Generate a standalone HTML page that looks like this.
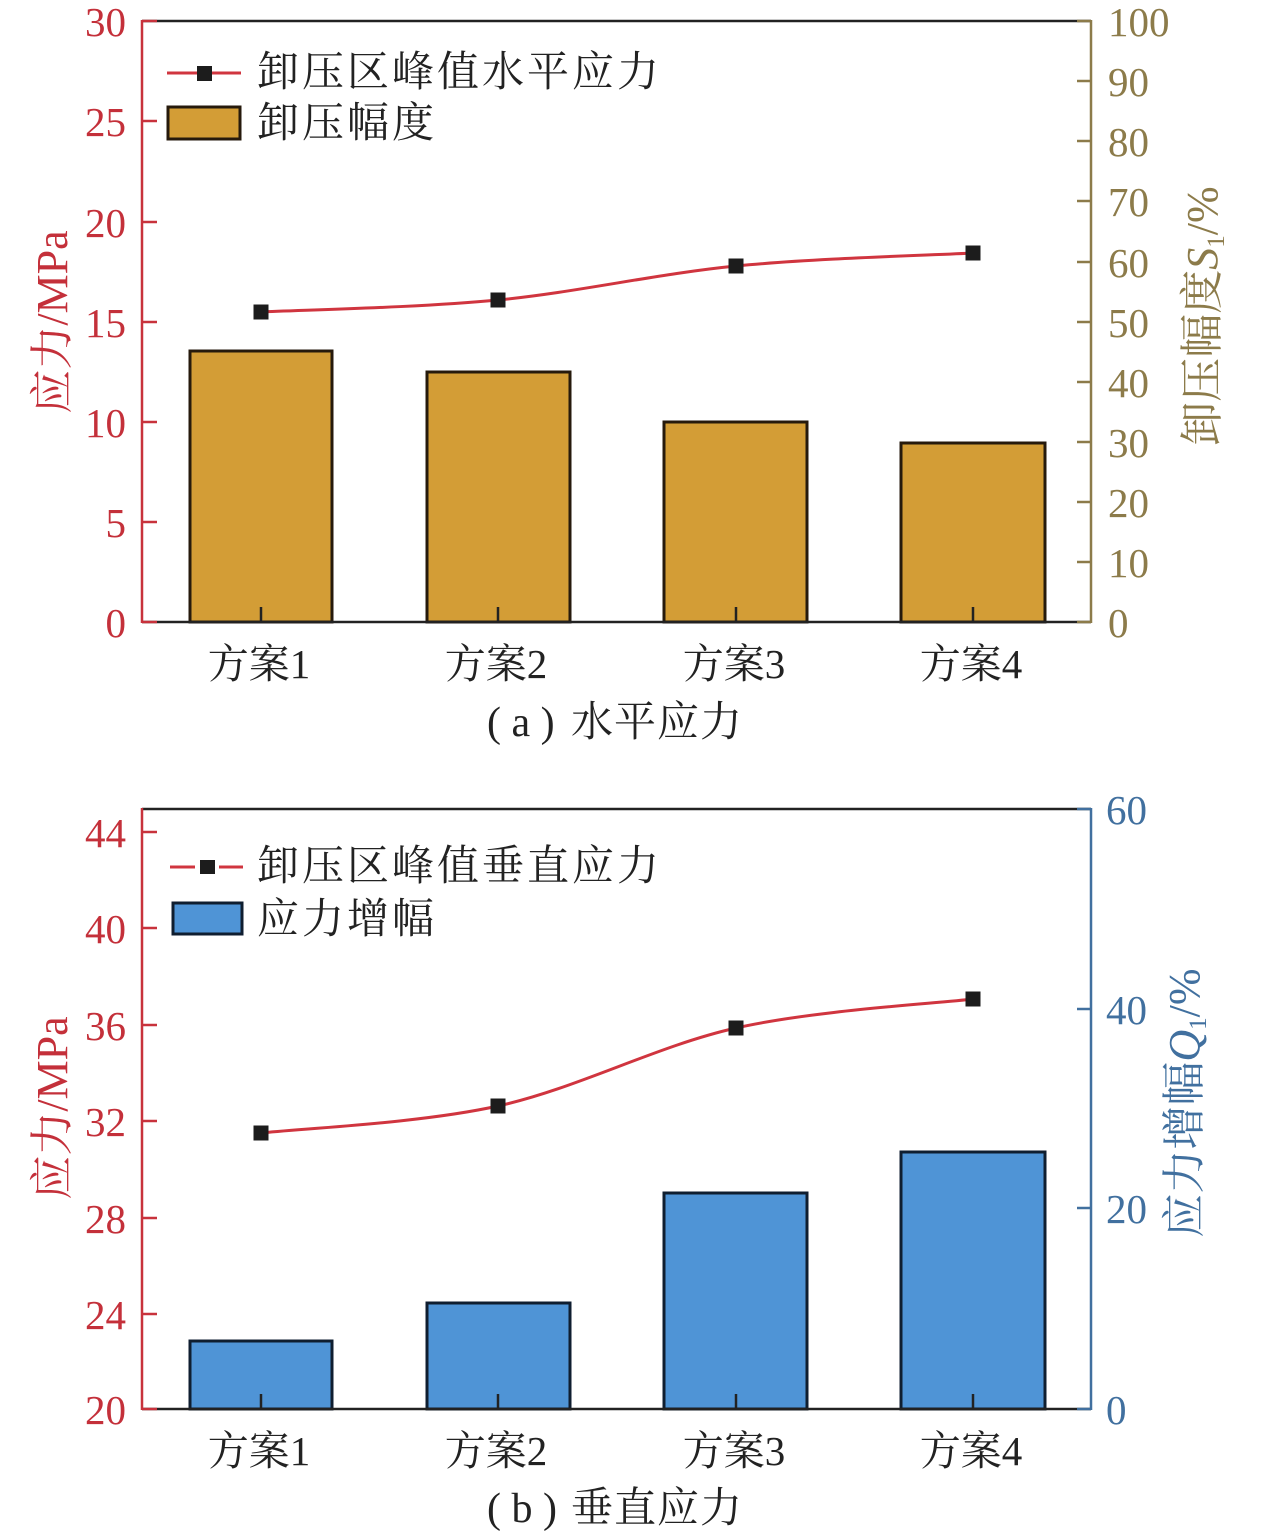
<!DOCTYPE html>
<html>
<head>
<meta charset="utf-8">
<style>
html,body{margin:0;padding:0;background:#fff;}
svg{display:block;}
.ser{font-family:"Liberation Serif","Noto Serif CJK SC",serif;}
.cjk{font-family:"Liberation Serif","Noto Serif CJK SC","Noto Sans CJK SC",serif;}
</style>
</head>
<body>
<svg width="1267" height="1535" viewBox="0 0 1267 1535" xmlns="http://www.w3.org/2000/svg">
<rect width="1267" height="1535" fill="#fff"/>

<!-- ================= Chart (a) ================= -->
<g fill="#d39d36" stroke="#261a0c" stroke-width="3">
  <rect x="190" y="351" width="142" height="271"/>
  <rect x="427" y="372" width="143" height="250"/>
  <rect x="664" y="422" width="143" height="200"/>
  <rect x="901" y="443" width="144" height="179"/>
</g>
<line x1="142" y1="21" x2="1091" y2="21" stroke="#222" stroke-width="2.5"/>
<line x1="142" y1="622" x2="1091" y2="622" stroke="#222" stroke-width="2.5"/>
<g stroke="#222" stroke-width="2.5">
  <line x1="261" y1="622" x2="261" y2="607"/>
  <line x1="498" y1="622" x2="498" y2="607"/>
  <line x1="736" y1="622" x2="736" y2="607"/>
  <line x1="973" y1="622" x2="973" y2="607"/>
</g>
<g stroke="#c8323c" stroke-width="2.5">
  <line x1="142" y1="20" x2="142" y2="623"/>
  <line x1="142" y1="21" x2="157" y2="21"/>
  <line x1="142" y1="121" x2="157" y2="121"/>
  <line x1="142" y1="222" x2="157" y2="222"/>
  <line x1="142" y1="322" x2="157" y2="322"/>
  <line x1="142" y1="422" x2="157" y2="422"/>
  <line x1="142" y1="522" x2="157" y2="522"/>
  <line x1="142" y1="622" x2="157" y2="622"/>
</g>
<g class="ser" fill="#c4303a" font-size="41" text-anchor="end">
  <text x="126" y="36">30</text>
  <text x="126" y="136">25</text>
  <text x="126" y="237">20</text>
  <text x="126" y="337">15</text>
  <text x="126" y="437">10</text>
  <text x="126" y="537">5</text>
  <text x="126" y="637">0</text>
</g>
<text class="cjk" fill="#c4303a" font-size="44" text-anchor="middle" transform="translate(67,322) rotate(-90)">应力/MPa</text>
<g stroke="#8c7b4a" stroke-width="2.5">
  <line x1="1091" y1="20" x2="1091" y2="623"/>
  <line x1="1077" y1="21" x2="1091" y2="21"/>
  <line x1="1077" y1="81" x2="1091" y2="81"/>
  <line x1="1077" y1="141" x2="1091" y2="141"/>
  <line x1="1077" y1="201" x2="1091" y2="201"/>
  <line x1="1077" y1="262" x2="1091" y2="262"/>
  <line x1="1077" y1="322" x2="1091" y2="322"/>
  <line x1="1077" y1="382" x2="1091" y2="382"/>
  <line x1="1077" y1="442" x2="1091" y2="442"/>
  <line x1="1077" y1="502" x2="1091" y2="502"/>
  <line x1="1077" y1="562" x2="1091" y2="562"/>
  <line x1="1077" y1="622" x2="1091" y2="622"/>
</g>
<g class="ser" fill="#8c7b4a" font-size="41" text-anchor="start">
  <text x="1108" y="36">100</text>
  <text x="1108" y="96">90</text>
  <text x="1108" y="156">80</text>
  <text x="1108" y="216">70</text>
  <text x="1108" y="277">60</text>
  <text x="1108" y="337">50</text>
  <text x="1108" y="397">40</text>
  <text x="1108" y="457">30</text>
  <text x="1108" y="517">20</text>
  <text x="1108" y="577">10</text>
  <text x="1108" y="637">0</text>
</g>
<text class="cjk" fill="#8c7b4a" font-size="44" text-anchor="middle" transform="translate(1217,316) rotate(-90)">卸压幅度<tspan font-style="italic">S</tspan><tspan font-size="25" dy="7">1</tspan><tspan dy="-7">/%</tspan></text>
<path d="M261,312 C300.5,310 418.8,307.7 498,300 C577.2,292.3 656.8,273.8 736,266 C815.2,258.2 933.5,255.2 973,253" fill="none" stroke="#d0353f" stroke-width="3"/>
<g fill="#1c1c1c">
  <rect x="253.5" y="304.5" width="15" height="15"/>
  <rect x="490.5" y="292.5" width="15" height="15"/>
  <rect x="728.5" y="258.5" width="15" height="15"/>
  <rect x="965.5" y="245.5" width="15" height="15"/>
</g>
<line x1="167" y1="73" x2="241" y2="73" stroke="#d0353f" stroke-width="3"/>
<rect x="197" y="66" width="15" height="15" fill="#1c1c1c"/>
<rect x="168" y="107" width="72" height="32" fill="#d39d36" stroke="#261a0c" stroke-width="3"/>
<g class="cjk" fill="#222" font-size="42" letter-spacing="3">
  <text x="257" y="86">卸压区峰值水平应力</text>
  <text x="257" y="137">卸压幅度</text>
</g>
<g class="cjk" fill="#222" font-size="41" text-anchor="middle">
  <text x="259" y="678">方案1</text>
  <text x="496" y="678">方案2</text>
  <text x="734" y="678">方案3</text>
  <text x="971" y="678">方案4</text>
</g>
<text class="cjk" fill="#222" font-size="42" x="487" y="736" xml:space="preserve">( a )</text>
<text class="cjk" fill="#222" font-size="42" x="571" y="736" letter-spacing="1">水平应力</text>

<!-- ================= Chart (b) ================= -->
<g fill="#4f94d6" stroke="#0f1e30" stroke-width="3">
  <rect x="190" y="1341" width="142" height="68"/>
  <rect x="427" y="1303" width="143" height="106"/>
  <rect x="664" y="1193" width="143" height="216"/>
  <rect x="901" y="1152" width="144" height="257"/>
</g>
<line x1="142" y1="809" x2="1091" y2="809" stroke="#222" stroke-width="2.5"/>
<line x1="142" y1="1409" x2="1091" y2="1409" stroke="#222" stroke-width="2.5"/>
<g stroke="#222" stroke-width="2.5">
  <line x1="261" y1="1409" x2="261" y2="1394"/>
  <line x1="498" y1="1409" x2="498" y2="1394"/>
  <line x1="736" y1="1409" x2="736" y2="1394"/>
  <line x1="973" y1="1409" x2="973" y2="1394"/>
</g>
<g stroke="#c8323c" stroke-width="2.5">
  <line x1="142" y1="808" x2="142" y2="1410"/>
  <line x1="142" y1="832" x2="157" y2="832"/>
  <line x1="142" y1="928" x2="157" y2="928"/>
  <line x1="142" y1="1025" x2="157" y2="1025"/>
  <line x1="142" y1="1121" x2="157" y2="1121"/>
  <line x1="142" y1="1218" x2="157" y2="1218"/>
  <line x1="142" y1="1314" x2="157" y2="1314"/>
  <line x1="142" y1="1409" x2="157" y2="1409"/>
</g>
<g class="ser" fill="#c4303a" font-size="41" text-anchor="end">
  <text x="126" y="847">44</text>
  <text x="126" y="943">40</text>
  <text x="126" y="1040">36</text>
  <text x="126" y="1136">32</text>
  <text x="126" y="1233">28</text>
  <text x="126" y="1329">24</text>
  <text x="126" y="1424">20</text>
</g>
<text class="cjk" fill="#c4303a" font-size="44" text-anchor="middle" transform="translate(67,1108) rotate(-90)">应力/MPa</text>
<g stroke="#41709f" stroke-width="2.5">
  <line x1="1091" y1="808" x2="1091" y2="1410"/>
  <line x1="1077" y1="809" x2="1091" y2="809"/>
  <line x1="1077" y1="1009" x2="1091" y2="1009"/>
  <line x1="1077" y1="1208" x2="1091" y2="1208"/>
  <line x1="1077" y1="1409" x2="1091" y2="1409"/>
</g>
<g class="ser" fill="#41709f" font-size="41" text-anchor="start">
  <text x="1106" y="824">60</text>
  <text x="1106" y="1024">40</text>
  <text x="1106" y="1223">20</text>
  <text x="1106" y="1424">0</text>
</g>
<text class="cjk" fill="#41709f" font-size="44" text-anchor="middle" transform="translate(1199,1103) rotate(-90)">应力增幅<tspan font-style="italic">Q</tspan><tspan font-size="25" dy="7">1</tspan><tspan dy="-7">/%</tspan></text>
<path d="M261,1133 C300.5,1128.5 418.8,1123.5 498,1106 C577.2,1088.5 656.8,1045.8 736,1028 C815.2,1010.2 933.5,1003.8 973,999" fill="none" stroke="#d0353f" stroke-width="3"/>
<g fill="#1c1c1c">
  <rect x="253.5" y="1125.5" width="15" height="15"/>
  <rect x="490.5" y="1098.5" width="15" height="15"/>
  <rect x="728.5" y="1020.5" width="15" height="15"/>
  <rect x="965.5" y="991.5" width="15" height="15"/>
</g>
<line x1="170" y1="867" x2="195" y2="867" stroke="#d0353f" stroke-width="3"/>
<line x1="219" y1="867" x2="243" y2="867" stroke="#d0353f" stroke-width="3"/>
<rect x="200" y="860" width="15" height="14" fill="#1c1c1c"/>
<rect x="173" y="903" width="69" height="31" fill="#4f94d6" stroke="#0f1e30" stroke-width="3"/>
<g class="cjk" fill="#222" font-size="42" letter-spacing="3">
  <text x="257" y="880">卸压区峰值垂直应力</text>
  <text x="257" y="933">应力增幅</text>
</g>
<g class="cjk" fill="#222" font-size="41" text-anchor="middle">
  <text x="259" y="1465">方案1</text>
  <text x="496" y="1465">方案2</text>
  <text x="734" y="1465">方案3</text>
  <text x="971" y="1465">方案4</text>
</g>
<text class="cjk" fill="#222" font-size="42" x="487" y="1522" xml:space="preserve">( b )</text>
<text class="cjk" fill="#222" font-size="42" x="571" y="1522" letter-spacing="1">垂直应力</text>
</svg>
</body>
</html>
